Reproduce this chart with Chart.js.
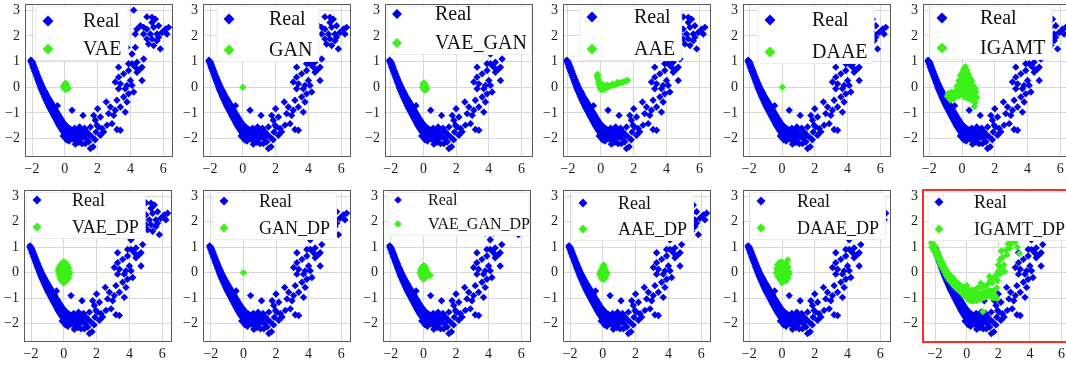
<!DOCTYPE html>
<html>
<head>
<meta charset="utf-8">
<script src="https://cdn.jsdelivr.net/npm/chart.js@4.4.1/dist/chart.umd.min.js"></script>
<style>
  html, body { margin: 0; padding: 0; background: #fff; }
  #wrap { position: relative; width: 1066px; height: 366px; overflow: hidden; background: #fff; }
  #wrap canvas { position: absolute; }
</style>
</head>
<body>
<div id="wrap"></div>
<script>
// ---- data ----
const modelNames = ['VAE', 'GAN', 'VAE_GAN', 'AAE', 'DAAE', 'IGAMT',
                    'VAE_DP', 'GAN_DP', 'VAE_GAN_DP', 'AAE_DP', 'DAAE_DP', 'IGAMT_DP'];
const xTicks = [-2, 0, 2, 4, 6];
const yTicks = [-2, -1, 0, 1, 2, 3];

// real samples (same in every panel)
const realBandUpper = [[-2.07,1.05],[-2.0,1.0],[-1.95,0.93],[-1.9,0.85],[-1.85,0.77],[-1.8,0.68],[-1.75,0.6],[-1.7,0.52],
  [-1.65,0.44],[-1.6,0.36],[-1.55,0.28],[-1.5,0.2],[-1.45,0.13],[-1.4,0.06],[-1.35,-0.01],[-1.3,-0.08],[-1.25,-0.14],
  [-1.2,-0.2],[-1.15,-0.26],[-1.1,-0.32],[-1.05,-0.38],[-1.0,-0.43],[-0.95,-0.48],[-0.9,-0.54],[-0.85,-0.59],[-0.8,-0.64],
  [-0.75,-0.7],[-0.7,-0.75],[-0.65,-0.8],[-0.6,-0.86],[-0.55,-0.91],[-0.5,-0.97],[-0.45,-1.02],[-0.4,-1.07],[-0.35,-1.12],
  [-0.3,-1.18],[-0.25,-1.23],[-0.2,-1.28],[-0.15,-1.33],[-0.1,-1.38],[-0.05,-1.42],[0.0,-1.45],[0.1,-1.52],[0.2,-1.58],
  [0.3,-1.62],[0.4,-1.67],[0.5,-1.7],[0.6,-1.74],[0.7,-1.77],[0.8,-1.8],[0.9,-1.85]];
const realBandLower = [[-2.05,0.98],[-2.0,0.9],[-1.95,0.8],[-1.9,0.72],[-1.85,0.63],[-1.8,0.55],[-1.75,0.46],[-1.7,0.38],
  [-1.65,0.29],[-1.6,0.2],[-1.55,0.12],[-1.5,0.03],[-1.45,-0.05],[-1.4,-0.13],[-1.35,-0.2],[-1.3,-0.28],[-1.25,-0.35],
  [-1.2,-0.42],[-1.15,-0.49],[-1.1,-0.56],[-1.05,-0.63],[-1.0,-0.7],[-0.95,-0.76],[-0.9,-0.82],[-0.85,-0.88],[-0.8,-0.94],
  [-0.75,-1.0],[-0.7,-1.06],[-0.65,-1.12],[-0.6,-1.18],[-0.55,-1.24],[-0.5,-1.3],[-0.45,-1.36],[-0.4,-1.42],[-0.35,-1.48],
  [-0.3,-1.53],[-0.25,-1.58],[-0.2,-1.63],[-0.15,-1.68],[-0.1,-1.73],[-0.05,-1.77],[0.0,-1.82],[0.1,-1.88],[0.2,-1.93],
  [0.3,-1.97],[0.4,-2.0],[0.5,-2.02],[0.6,-2.0],[0.7,-2.02],[0.8,-1.96],[0.9,-2.0],
  [-1.0,-0.57],[-0.9,-0.68],[-0.8,-0.79],[-0.7,-0.9],[-0.6,-1.02],[-0.5,-1.13],[-0.4,-1.25],[-0.3,-1.35],[-0.2,-1.45],
  [-0.1,-1.55],[0.0,-1.63],[0.1,-1.7],[0.2,-1.75],[0.3,-1.8],[0.4,-1.83],[0.5,-1.86],[0.6,-1.88],[0.7,-1.9]];
const realScatter = [[-0.45,-0.72],[-0.1,-1.9],[0.1,-2.05],[0.25,-2.1],[0.6,-1.6],[0.8,-1.65],[1.0,-1.75],[1.1,-1.85],
  [1.2,-1.6],[0.9,-1.55],[1.3,-2.0],[1.5,-1.85],[1.9,-1.75],[2.05,-1.55],[1.85,-2.05],[0.85,-2.15],[1.25,-2.2],
  [0.44,-0.9],[1.11,-1.1],[2.0,-0.84],[1.76,-1.1],[1.86,-1.29],[2.17,-1.16],[1.96,-1.48],[2.27,-1.61],[1.56,-1.55],
  [1.35,-1.74],[1.15,-1.94],[1.66,-1.94],[1.46,-2.13],[1.72,-2.32],[1.56,-2.39],[1.05,-2.2],[0.64,-2.22],[0.95,-2.0],
  [0.74,-1.81],[0.44,-1.68],[0.24,-1.87],[2.17,-1.87],[2.37,-1.74],[2.57,-1.48],[2.88,-1.42],[3.18,-1.65],[3.39,-1.68],
  [2.98,-1.1],[2.67,-1.03],[2.53,-0.58],[2.78,-0.77],[3.08,-0.9],[3.39,-0.77],[3.69,-0.97],[3.18,-0.51],[3.59,-0.38],
  [3.79,-0.58],[3.89,-0.26],[3.69,-0.06],[3.28,-0.06],[3.08,0.2],[3.39,0.13],[3.79,0.07],[4.1,0.07],[4.2,-0.19],
  [4.0,0.26],[3.28,0.39],[3.89,0.65],[3.59,0.52],[3.28,0.78],[4.4,0.58],[4.71,0.26],[4.6,0.71],[4.1,0.91],[4.4,0.97],
  [4.3,0.78],[4.71,0.78],[4.81,1.1],[4.1,1.29],[3.79,1.55],[4.3,1.55],[3.89,0.91],
  [4.2,3.0],[5.01,2.74],[5.32,2.72],[5.52,2.65],[5.32,2.52],[4.61,2.39],[4.81,2.33],[4.4,2.26],[5.01,2.26],[5.42,2.33],
  [5.72,2.39],[6.13,2.26],[6.33,2.33],[5.92,2.13],[5.62,2.07],[5.22,2.07],[4.81,2.07],[4.3,2.07],[5.01,1.88],[5.32,1.88],
  [5.62,1.81],[5.11,1.68],[5.42,1.62],[5.83,1.49],[6.23,2.07],[5.72,1.94]];

// generated samples, one list per model
const genVAE = [[0,0.12],[0.05,0.15],[0.1,0.1],[-0.08,0.05],[0,0.03],[0.08,0.02],[0.15,0],[0.05,-0.05],[-0.05,-0.03],
  [0.12,-0.07],[0.2,-0.05],[0.02,-0.08]];
const genGAN = [[0,0]];
const genVAE_GAN = [[0.05,0.15],[0.1,0.12],[0,0.08],[0.08,0.05],[0.15,0.02],[-0.05,0],[0.02,-0.02],[0.1,-0.05],
  [0.2,-0.05],[0.05,-0.1],[0.15,-0.1],[0,0.15]];
const genAAE = [[-0.2,0.5],[-0.22,0.4],[-0.15,0.3],[-0.12,0.2],[-0.1,0.1],[-0.05,0.0],[0,-0.08],[0.1,-0.1],[0.05,0.05],
  [0.2,0.0],[0.35,-0.02],[0.5,0.02],[0.6,0.05],[0.75,0.08],[0.9,0.1],[1.05,0.13],[1.2,0.17],[1.35,0.2],[1.5,0.23],
  [1.62,0.27],[0.4,0.08],[0.7,0.12],[1.0,0.18],[0.25,-0.07],[-0.05,0.15],[0.15,0.1],[-0.18,0.45]];
const genDAAE = [[0.02,0]];
const genIGAMT = [[0.2,0.8],[0.1,0.7],[0.3,0.65],[0.0,0.55],[0.2,0.55],[0.4,0.5],[-0.1,0.45],[0.1,0.4],[0.3,0.4],
  [0.5,0.35],[0.6,0.25],[0.0,0.3],[-0.2,0.25],[0.2,0.25],[0.4,0.2],[-0.1,0.15],[0.1,0.1],[0.3,0.05],[0.5,0.1],[0.7,0.05],
  [0.8,-0.05],[-0.3,0.05],[-0.1,0.0],[0.2,-0.05],[0.4,-0.1],[0.6,-0.15],[0.85,-0.2],[-0.2,-0.15],[0.0,-0.2],[0.3,-0.25],
  [0.5,-0.3],[0.7,-0.35],[0.9,-0.4],[0.6,-0.5],[0.8,-0.6],[0.75,-0.75],[0.4,-0.45],[0.2,-0.4],[-0.4,-0.3],[-0.6,-0.35],
  [-0.8,-0.4],[-0.9,-0.35],[-0.7,-0.5],[-0.5,-0.45],[-0.85,-0.25],[-0.65,-0.2],[-0.4,-0.15],[0.1,-0.35],[-0.2,-0.35]];
const genVAE_DP = [[0,0.42],[-0.1,0.38],[0.1,0.38],[-0.2,0.3],[0,0.3],[0.2,0.3],[-0.3,0.2],[-0.1,0.2],[0.1,0.2],
  [0.3,0.18],[-0.35,0.08],[-0.15,0.08],[0.05,0.08],[0.25,0.08],[0.37,0.0],[-0.3,-0.03],[-0.1,-0.03],[0.1,-0.03],
  [0.3,-0.08],[-0.25,-0.15],[-0.05,-0.15],[0.15,-0.15],[0.3,-0.2],[-0.2,-0.27],[0,-0.27],[0.2,-0.27],[-0.1,-0.35],
  [0.1,-0.35],[0,-0.4]];
const genGAN_DP = [[0,0]];
const genVAE_GAN_DP = [[0,0.27],[0.1,0.25],[-0.1,0.2],[0.05,0.18],[0.15,0.15],[-0.18,0.1],[-0.05,0.08],[0.1,0.07],
  [0.2,0.05],[-0.2,0],[0,-0.02],[0.15,-0.03],[0.3,-0.08],[0.42,-0.1],[-0.15,-0.1],[0.05,-0.12],[0.2,-0.15],[-0.08,-0.2],
  [0.08,-0.22],[0,-0.25]];
const genAAE_DP = [[0.05,0.3],[0,0.22],[0.1,0.2],[-0.08,0.12],[0.05,0.12],[0.15,0.1],[-0.15,0.03],[0,0.03],[0.15,0.02],
  [0.25,0],[-0.2,-0.05],[-0.05,-0.06],[0.1,-0.07],[0.22,-0.08],[-0.12,-0.15],[0.02,-0.16],[0.15,-0.17],[-0.05,-0.25],
  [0.08,-0.26]];
const genDAAE_DP = [[0.0,0.42],[-0.15,0.4],[0.35,0.5],[0.25,0.38],[0.1,0.32],[-0.28,0.3],[-0.1,0.25],[0.2,0.2],
  [0.38,0.22],[-0.32,0.15],[-0.05,0.1],[0.15,0.08],[0.4,0.05],[-0.35,0],[-0.15,-0.02],[0.05,-0.05],[0.3,-0.08],
  [0.44,-0.05],[-0.25,-0.15],[0,-0.18],[0.2,-0.2],[0.38,-0.2],[-0.12,-0.28],[0.1,-0.3],[0.25,-0.32],[0,-0.4]];
const genIGAMT_DP = [[-2.22,1.18],[-2.15,1.12],[-2.08,1.08],[-2.0,1.02],[-1.9,0.88],[-1.8,0.74],[-1.7,0.6],[-1.6,0.47],
  [-1.5,0.35],[-1.4,0.22],[-1.3,0.1],[-1.2,0.0],[-1.1,-0.08],[-1.0,-0.12],[-0.9,-0.2],[-0.8,-0.28],[-0.7,-0.34],
  [-0.6,-0.4],[-0.5,-0.45],[-0.4,-0.5],[-0.3,-0.55],[-0.2,-0.58],[-0.1,-0.62],[0.0,-0.6],
  [-2.2,1.0],[-2.1,0.9],[-2.0,0.8],[-1.9,0.66],[-1.8,0.52],[-1.7,0.38],[-1.6,0.26],[-1.5,0.14],[-1.4,0.02],[-1.3,-0.1],
  [-1.2,-0.2],[-1.1,-0.3],[-1.0,-0.36],[-0.9,-0.44],[-0.8,-0.52],[-0.7,-0.58],[-0.6,-0.63],[-0.5,-0.68],[-0.4,-0.74],
  [-0.3,-0.8],[-0.2,-0.86],[-0.1,-0.92],[0,-0.98],
  [-1.95,0.85],[-1.75,0.56],[-1.55,0.3],[-1.35,0.06],[-1.15,-0.14],[-0.95,-0.3],[-0.75,-0.45],[-0.55,-0.55],
  [-0.35,-0.66],[-0.15,-0.76],
  [0.1,-1.05],[0.2,-1.08],[0.3,-1.1],[0.4,-1.1],[0.5,-1.08],[0.6,-1.1],[0.7,-1.06],[0.8,-1.05],[0.9,-1.02],[1.0,-1.0],
  [1.1,-0.98],[1.2,-0.95],[1.3,-0.92],[1.4,-0.9],[1.5,-0.88],[1.6,-0.95],[1.7,-1.0],[1.8,-0.9],[1.9,-1.0],
  [0.1,-0.85],[0.25,-0.9],[0.4,-0.88],[0.55,-0.9],[0.7,-0.85],[0.85,-0.82],[1.0,-0.8],[1.15,-0.78],[1.3,-0.75],
  [1.45,-0.7],[1.6,-0.72],[1.75,-0.7],
  [0.0,-0.5],[0.2,-0.7],[0.35,-0.68],[0.5,-0.7],[0.65,-0.62],[0.8,-0.58],[0.9,-0.42],[1.05,-0.55],[1.2,-0.52],
  [1.35,-0.45],[1.5,-0.3],[1.45,-0.15],[1.6,-0.4],[1.7,-0.2],[1.85,-0.1],[1.95,-0.3],[2.0,0.05],[2.0,0.3],[2.1,0.5],
  [2.2,0.85],[2.25,0.6],[2.35,0.3],[2.4,0.04],[2.5,0.9],[2.55,0.7],[2.62,1.13],[2.7,0.95],[2.8,1.1],[2.9,1.2],
  [3.05,1.2],[3.2,1.0],[3.35,0.75],[1.03,-1.53],[1.9,-0.6],[2.1,-0.05],[2.2,0.2]];

const generated = [genVAE, genGAN, genVAE_GAN, genAAE, genDAAE, genIGAMT,
                   genVAE_DP, genGAN_DP, genVAE_GAN_DP, genAAE_DP, genDAAE_DP, genIGAMT_DP];
const realPoints = realBandUpper.concat(realBandLower, realScatter);

// ---- layout (pixels) ----
// plot box left/top/height, x range, inset legend: marker x, text x, row y's (relative to plot), font, marker radius
const panels = [
  { left: 25,  top: 3,   h: 154, xMin: -2.43, xMax: 6.6, lg: { mx: 23, tx: 58, ry: 17, gy: 45, font: 20, mr: 5.5 } },
  { left: 203, top: 3,   h: 154, xMin: -2.43, xMax: 6.6, lg: { mx: 26, tx: 66, ry: 15, gy: 46, font: 20, mr: 5.5 } },
  { left: 385, top: 3,   h: 154, xMin: -2.35, xMax: 6.7, lg: { mx: 12, tx: 50, ry: 10, gy: 39, font: 20, mr: 5 } },
  { left: 563, top: 3,   h: 154, xMin: -2.3,  xMax: 6.7, lg: { mx: 29, tx: 71, ry: 13, gy: 45, font: 20, mr: 5.5 } },
  { left: 743, top: 3,   h: 154, xMin: -2.38, xMax: 6.65, lg: { mx: 27, tx: 69, ry: 16, gy: 48, font: 20, mr: 5.5 } },
  { left: 923, top: 3,   h: 154, xMin: -2.38, xMax: 6.65, lg: { mx: 19, tx: 57, ry: 14, gy: 44, font: 20, mr: 5.5 } },
  { left: 24,  top: 189, h: 153, xMin: -2.43, xMax: 6.6, lg: { mx: 13, tx: 48, ry: 10, gy: 37, font: 18, mr: 4.5 } },
  { left: 203, top: 189, h: 153, xMin: -2.48, xMax: 6.6, lg: { mx: 21, tx: 56, ry: 11, gy: 38, font: 18, mr: 4.5 } },
  { left: 383, top: 189, h: 153, xMin: -2.48, xMax: 6.6, lg: { mx: 15, tx: 45, ry: 10, gy: 34, font: 16, mr: 3.8 } },
  { left: 563, top: 189, h: 153, xMin: -2.43, xMax: 6.6, lg: { mx: 20, tx: 55, ry: 13, gy: 39, font: 18, mr: 4.5 } },
  { left: 743, top: 189, h: 153, xMin: -2.38, xMax: 6.65, lg: { mx: 18, tx: 54, ry: 11, gy: 38, font: 18, mr: 4.5 } },
  { left: 923, top: 189, h: 153, xMin: -2.76, xMax: 6.6, lg: { mx: 16, tx: 51, ry: 12, gy: 39, font: 18, mr: 4.5 } }
];
const plotW = 148;
const yMin = -2.72, yMax = 3.24;
const REAL_COLOR = '#0000f0';
const GEN_COLOR = '#3cf01a';
const FONT = '"Liberation Serif", "Times New Roman", serif';

function diamond(ctx, x, y, r) {
  ctx.beginPath();
  ctx.moveTo(x, y - r);
  ctx.lineTo(x + r, y);
  ctx.lineTo(x, y + r);
  ctx.lineTo(x - r, y);
  ctx.closePath();
  ctx.fill();
}

// legend drawn inside the plot, on top of the points
const insetLegend = {
  id: 'insetLegend',
  afterDatasetsDraw(chart, args, opts) {
    const { ctx, chartArea: a } = chart;
    const L = opts.lg;
    ctx.save();
    ctx.font = `${L.font}px ${FONT}`;
    const w = Math.max(ctx.measureText('Real').width, ctx.measureText(opts.name).width);
    const x0 = Math.max(a.left + 2, a.left + L.mx - L.mr - 7);
    const x1 = Math.min(a.right - 2, a.left + L.tx + w + 6);
    const y0 = Math.max(a.top + 2, a.top + L.ry - 15);
    const y1 = a.top + L.gy + 11;
    ctx.beginPath();
    ctx.roundRect(x0 + 0.5, y0 + 0.5, x1 - x0, y1 - y0, 3);
    ctx.fillStyle = '#ffffff';
    ctx.fill();
    ctx.strokeStyle = '#ececec';
    ctx.lineWidth = 1;
    ctx.stroke();
    ctx.fillStyle = REAL_COLOR;
    diamond(ctx, a.left + L.mx, a.top + L.ry, L.mr);
    ctx.fillStyle = GEN_COLOR;
    diamond(ctx, a.left + L.mx, a.top + L.gy, L.mr);
    ctx.fillStyle = '#111';
    ctx.textBaseline = 'middle';
    ctx.textAlign = 'left';
    ctx.fillText('Real', a.left + L.tx, a.top + L.ry + 1);
    ctx.fillText(opts.name, a.left + L.tx, a.top + L.gy + 1);
    ctx.restore();
  }
};

// full box around the axes
const axesFrame = {
  id: 'axesFrame',
  afterDraw(chart, args, opts) {
    const { ctx, chartArea: a } = chart;
    ctx.save();
    ctx.strokeStyle = opts.color;
    ctx.lineWidth = opts.width;
    const o = opts.width % 2 ? 0.5 : 0;
    ctx.strokeRect(a.left + o, a.top + o, a.right - a.left - 2 * o, a.bottom - a.top - 2 * o);
    ctx.restore();
  }
};

const minus = v => String(v).replace('-', '\u2212');
const wrap = document.getElementById('wrap');

panels.forEach((p, i) => {
  const cv = document.createElement('canvas');
  const cw = 25 + plotW + 7;
  const ch = 3 + p.h + 23;
  cv.width = cw;
  cv.height = ch;
  cv.style.left = (p.left - 25) + 'px';
  cv.style.top = (p.top - 3) + 'px';
  cv.style.width = cw + 'px';
  cv.style.height = ch + 'px';
  wrap.appendChild(cv);

  const red = i === 11;
  new Chart(cv, {
    type: 'scatter',
    data: {
      datasets: [
        { label: modelNames[i], data: generated[i].map(([x, y]) => ({ x, y })), order: 1,
          backgroundColor: GEN_COLOR, pointStyle: 'rectRot', pointRadius: 3.7, pointBorderWidth: 0, clip: 0 },
        { label: 'Real', data: realPoints.map(([x, y]) => ({ x, y })), order: 2,
          backgroundColor: REAL_COLOR, pointStyle: 'rectRot', pointRadius: 3.7, pointBorderWidth: 0, clip: 0 }
      ]
    },
    options: {
      responsive: false,
      animation: false,
      devicePixelRatio: 1,
      events: [],
      layout: { padding: { left: 0, top: 3, right: 7, bottom: 0 } },
      plugins: {
        legend: { display: false },
        tooltip: { enabled: false },
        insetLegend: { lg: p.lg, name: modelNames[i] },
        axesFrame: { color: red ? '#ff2a2a' : '#5a5a5a', width: red ? 2 : 1 }
      },
      scales: {
        x: {
          type: 'linear', min: p.xMin, max: p.xMax,
          afterBuildTicks: s => { s.ticks = xTicks.map(v => ({ value: v })); },
          afterFit: s => { s.height = 23; s.paddingLeft = 0; s.paddingRight = 0; },
          grid: { color: '#d8d8d8', lineWidth: 1, drawTicks: false },
          border: { display: false },
          ticks: { autoSkip: false, maxRotation: 0, padding: 4, color: '#1a1a1a',
                   font: { family: FONT, size: 14 }, callback: v => minus(v) }
        },
        y: {
          type: 'linear', min: yMin, max: yMax,
          afterBuildTicks: s => { s.ticks = yTicks.map(v => ({ value: v })); },
          afterFit: s => { s.width = 25; s.paddingTop = 0; s.paddingBottom = 0; },
          grid: { color: '#d8d8d8', lineWidth: 1, drawTicks: false },
          border: { display: false },
          ticks: { autoSkip: false, padding: 5, color: '#1a1a1a',
                   font: { family: FONT, size: 14 }, callback: v => minus(v) }
        }
      }
    },
    plugins: [insetLegend, axesFrame]
  });
});
</script>
</body>
</html>
